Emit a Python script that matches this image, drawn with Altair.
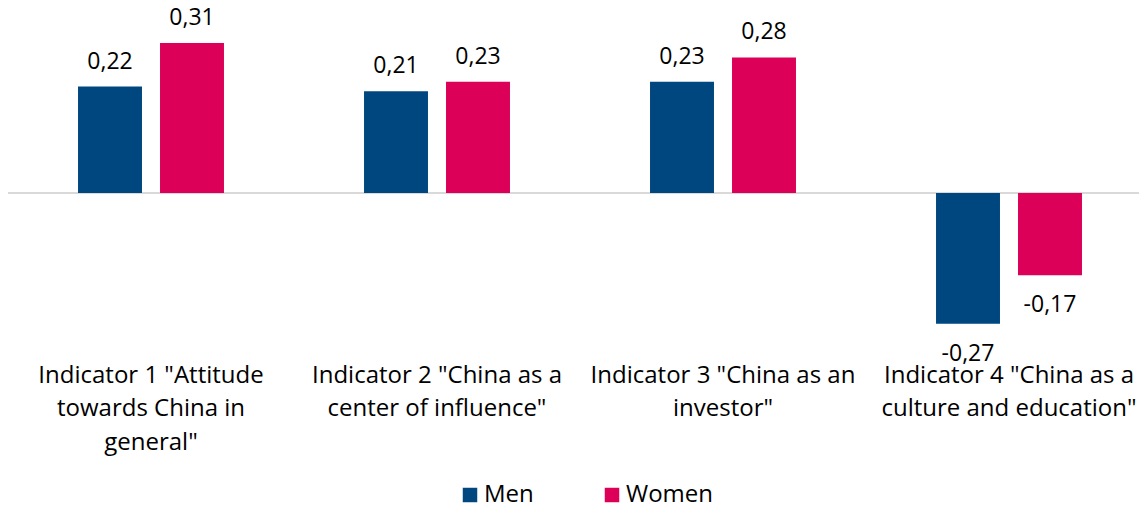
import altair as alt
import pandas as pd

categories = [
    'Indicator 1 "Attitude|towards China in|general"',
    'Indicator 2 "China as a|center of influence"',
    'Indicator 3 "China as an|investor"',
    'Indicator 4 "China as a|culture and education"',
]
groups = ["Men", "Women"]
men = [0.22, 0.21, 0.23, -0.27]
women = [0.31, 0.23, 0.28, -0.17]
colors = ["#00467f", "#dc0058"]

rows = []
for c, m, w in zip(categories, men, women):
    rows.append({"cat": c, "group": "Men", "value": m})
    rows.append({"cat": c, "group": "Women", "value": w})
df = pd.DataFrame(rows)

FONT = "Open Sans"
FS = 23
AFS = 24
YDOM = [-0.3244, 0.374]

x_enc = alt.X(
    "cat:N",
    sort=categories,
    scale=alt.Scale(range=[0, 1144], paddingInner=0, paddingOuter=0),
    axis=alt.Axis(
        title=None,
        domain=False,
        ticks=False,
        labelAngle=0,
        labelExpr="split(datum.label, '|')",
        labelFontSize=AFS,
        labelLineHeight=33.5,
        labelPadding=13,
        labelLimit=0,
        labelColor="#000000",
        labelBaseline="top",
    ),
)
xo_enc = alt.XOffset("group:N", sort=groups, scale=alt.Scale(paddingInner=0.22, paddingOuter=0.854))
y_enc = alt.Y("value:Q", scale=alt.Scale(domain=YDOM, nice=False, zero=False), axis=None)

base = alt.Chart(df).transform_calculate(
    label="replace(replace(format(datum.value, '.2f'), '.', ','), '\u2212', '-')"
)

rule = alt.Chart(pd.DataFrame({"z": [0]})).mark_rule(color="#d9d9d9", strokeWidth=2).encode(
    y=alt.Y("z:Q", scale=alt.Scale(domain=YDOM, nice=False, zero=False), axis=None)
)

bars = base.mark_bar().encode(
    x=x_enc,
    xOffset=xo_enc,
    y=y_enc,
    y2=alt.datum(0),
    color=alt.Color(
        "group:N",
        sort=groups,
        scale=alt.Scale(domain=groups, range=colors),
        legend=alt.Legend(
            title=None,
            orient="none",
            direction="horizontal",
            legendX=450,
            legendY=471,
            symbolType="square",
            symbolSize=210,
            symbolStrokeWidth=0,
            labelFontSize=AFS,
            labelColor="#000000",
            labelOffset=2,
            columnPadding=66,
        ),
    ),
)

pos_text = base.transform_filter("datum.value >= 0").mark_text(
    fontSize=FS, dy=-25, baseline="middle", color="#000000"
).encode(x=x_enc, xOffset=xo_enc, y=y_enc, text="label:N")

neg_text = base.transform_filter("datum.value < 0").mark_text(
    fontSize=FS, dy=30, baseline="middle", color="#000000"
).encode(x=x_enc, xOffset=xo_enc, y=y_enc, text="label:N")

chart = alt.layer(rule, bars, pos_text, neg_text).properties(
    width=1131,
    height=338,
    autosize=alt.AutoSizeParams(type="none"),
    padding={"left": 0, "top": 4, "right": 0, "bottom": 156},
).configure(font=FONT).configure_view(stroke=None)

chart.save("out.html", embed_options={"renderer": "svg", "actions": False})
